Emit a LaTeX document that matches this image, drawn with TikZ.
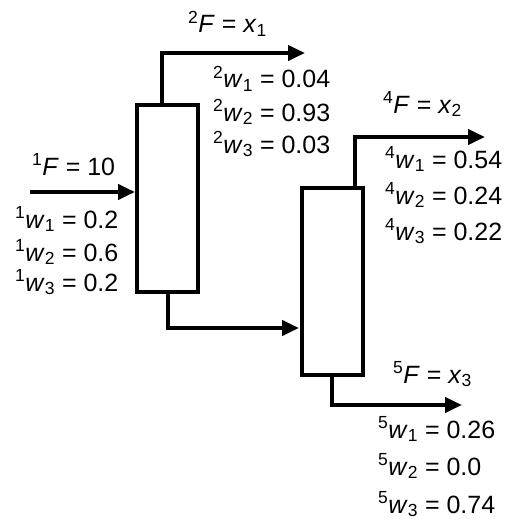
\documentclass[tikz,border=0pt]{standalone}
\usepackage{fontspec}
\setmainfont{Liberation Sans}
\usetikzlibrary{arrows.meta}
\begin{document}
\begin{tikzpicture}[x=1pt,y=-1pt,
  flow/.style={line width=4pt,-{Triangle[length=17pt,width=15pt]}},
  unit/.style={draw,line width=4pt,minimum width=61pt,minimum height=187pt,inner sep=0pt},
  lbl/.style={anchor=base west,inner sep=0pt,font=\fontsize{25}{30}\selectfont}]
\useasboundingbox (0,0) rectangle (509,519);
% units
\node[unit] (b1) at (167.5,198.5) {};
\node[unit] (b2) at (332.5,281.5) {};
% stream end points
\coordinate (in1) at (30,192);
\coordinate (o2) at (305,53);
\coordinate (mid) at (168,328);
\coordinate (o4) at (485,137);
\coordinate (o5) at (462,405);
% streams
\draw[flow] (in1) -- (in1 -| b1.west);
\draw[flow] ([xshift=-5.5pt]b1.north) |- (o2);
\draw[flow,shorten >=1pt] ([xshift=0.5pt]b1.south) |- (b2.west |- mid);
\draw[flow] ([xshift=22.5pt]b2.north) |- (o4);
\draw[flow] ([xshift=-0.5pt]b2.south) |- (o5);
% labels stream 1
\node[lbl] (f1) at (32,175) {\textsuperscript{1}\textit{F} = 10};
\node[lbl] (w11) at (15,228) {\textsuperscript{1}\textit{w}\textsubscript{1} = 0.2};
\node[lbl] (w12) at (15,261) {\textsuperscript{1}\textit{w}\textsubscript{2} = 0.6};
\node[lbl] (w13) at (15,291) {\textsuperscript{1}\textit{w}\textsubscript{3} = 0.2};
% labels stream 2
\node[lbl] (f2) at (188,33) {\textsuperscript{2}\textit{F} = \textit{x}\textsubscript{1}};
\node[lbl] (w21) at (213,88) {\textsuperscript{2}\textit{w}\textsubscript{1} = 0.04};
\node[lbl] (w22) at (213,121) {\textsuperscript{2}\textit{w}\textsubscript{2} = 0.93};
\node[lbl] (w23) at (213,153) {\textsuperscript{2}\textit{w}\textsubscript{3} = 0.03};
% labels stream 4
\node[lbl] (f4) at (383,113) {\textsuperscript{4}\textit{F} = \textit{x}\textsubscript{2}};
\node[lbl] (w41) at (385,168) {\textsuperscript{4}\textit{w}\textsubscript{1} = 0.54};
\node[lbl] (w42) at (385,204) {\textsuperscript{4}\textit{w}\textsubscript{2} = 0.24};
\node[lbl] (w43) at (385,240) {\textsuperscript{4}\textit{w}\textsubscript{3} = 0.22};
% labels stream 5
\node[lbl] (f5) at (393,383) {\textsuperscript{5}\textit{F} = \textit{x}\textsubscript{3}};
\node[lbl] (w51) at (378,438) {\textsuperscript{5}\textit{w}\textsubscript{1} = 0.26};
\node[lbl] (w52) at (378,475) {\textsuperscript{5}\textit{w}\textsubscript{2} = 0.0};
\node[lbl] (w53) at (378,513) {\textsuperscript{5}\textit{w}\textsubscript{3} = 0.74};
\end{tikzpicture}
\end{document}
